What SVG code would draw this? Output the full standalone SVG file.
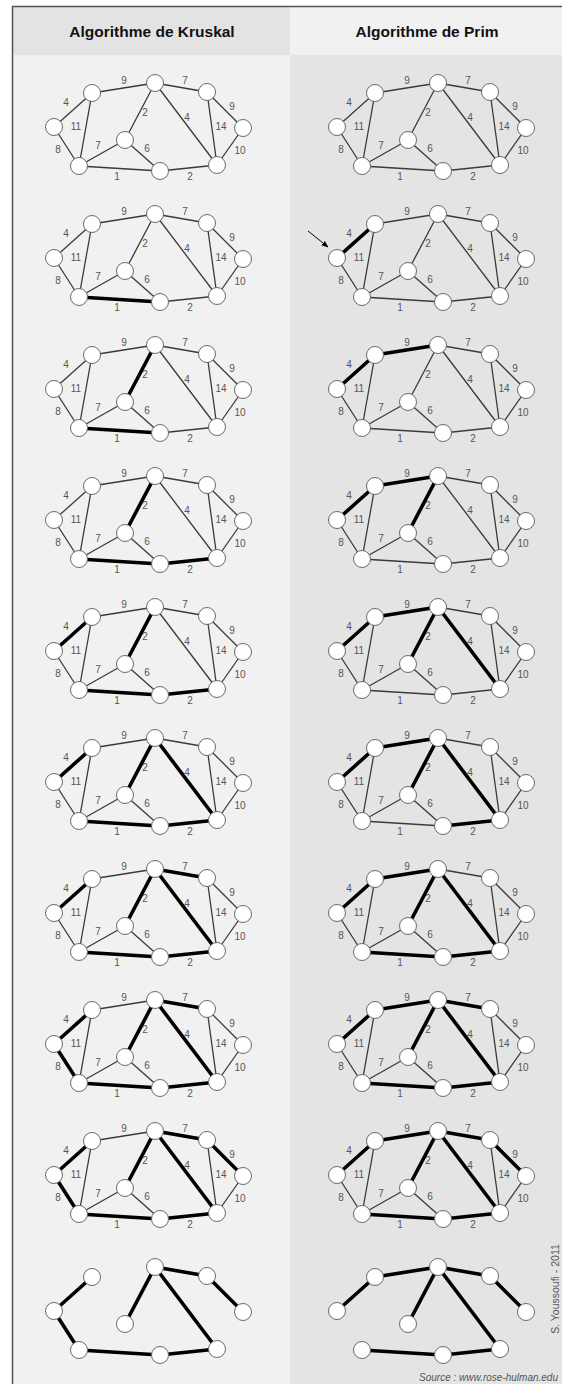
<svg xmlns="http://www.w3.org/2000/svg" xmlns:xlink="http://www.w3.org/1999/xlink" width="562" height="1384" viewBox="0 0 562 1384">
<style>
.t{stroke:#3a3a3a;stroke-width:1.3;fill:none}
.b{stroke:#000;stroke-width:3.6;fill:none;stroke-linecap:round}
.n{fill:#fff;stroke:#6a6a6a;stroke-width:1}
.l{font-family:"Liberation Sans",Arial,sans-serif;font-size:10px;fill:#555;text-anchor:middle}
.h{font-family:"Liberation Sans",Arial,sans-serif;font-size:15.5px;font-weight:bold;fill:#111;text-anchor:middle}
</style>
<defs>
<marker id="ah" viewBox="0 0 10 10" refX="9" refY="5" markerWidth="7" markerHeight="7" orient="auto" markerUnits="userSpaceOnUse"><path d="M0,1L10,5L0,9z" fill="#000"/></marker>
</defs>
<rect x="0" y="0" width="562" height="1384" fill="#fff"/>
<rect x="12" y="6" width="278" height="49" fill="#e3e3e3"/>
<rect x="290" y="6" width="272" height="49" fill="#f1f1f1"/>
<rect x="12" y="55" width="278" height="1329" fill="#f1f1f1"/>
<rect x="290" y="55" width="272" height="1329" fill="#e4e4e4"/>
<path d="M12,6.5H562M12.5,6V1384" stroke="#555" stroke-width="1.5" fill="none"/>
<text class="h" x="152" y="37">Algorithme de Kruskal</text>
<text class="h" x="427" y="37">Algorithme de Prim</text>

<!-- Kruskal 1 -->
<g id="k1" transform="translate(0,0)">
<g id="k1-edges"><path class="t" d="M54,127L92,93M54,127L79,166M92,93L79,166M92,93L155,83M155,83L207,92M155,83L125,140M155,83L217,165M207,92L217,165M207,92L243,128M243,128L217,165M125,140L79,166M125,140L160,171M79,166L160,171M160,171L217,165"/></g>
<g class="l"><text x="66" y="106">4</text><text x="58" y="153">8</text><text x="76" y="130">11</text><text x="124" y="84">9</text><text x="185" y="84">7</text><text x="145" y="116">2</text><text x="187" y="121">4</text><text x="221" y="130">14</text><text x="232" y="110">9</text><text x="240" y="154">10</text><text x="98" y="149">7</text><text x="147" y="152">6</text><text x="117" y="180">1</text><text x="190" y="180">2</text></g>
<g id="k1A"><circle class="n" cx="54" cy="127" r="8.5"/></g><g id="k1B"><circle class="n" cx="92" cy="93" r="8.5"/></g><g id="k1C"><circle class="n" cx="155" cy="83" r="8.5"/></g><g id="k1D"><circle class="n" cx="207" cy="92" r="8.5"/></g><g id="k1E"><circle class="n" cx="243" cy="128" r="8.5"/></g><g id="k1F"><circle class="n" cx="125" cy="140" r="8.5"/></g><g id="k1G"><circle class="n" cx="79" cy="166" r="8.5"/></g><g id="k1H"><circle class="n" cx="160" cy="171" r="8.5"/></g><g id="k1I"><circle class="n" cx="217" cy="165" r="8.5"/></g>
</g>

<!-- Kruskal 2 -->
<g id="k2" transform="translate(0,131)">
<g id="k2-edges"><path class="t" d="M54,127L92,93M54,127L79,166M92,93L79,166M92,93L155,83M155,83L207,92M155,83L125,140M155,83L217,165M207,92L217,165M207,92L243,128M243,128L217,165M125,140L79,166M125,140L160,171M79,166L160,171M160,171L217,165"/><path class="b" d="M79,166L160,171"/></g>
<g class="l"><text x="66" y="106">4</text><text x="58" y="153">8</text><text x="76" y="130">11</text><text x="124" y="84">9</text><text x="185" y="84">7</text><text x="145" y="116">2</text><text x="187" y="121">4</text><text x="221" y="130">14</text><text x="232" y="110">9</text><text x="240" y="154">10</text><text x="98" y="149">7</text><text x="147" y="152">6</text><text x="117" y="180">1</text><text x="190" y="180">2</text></g>
<g id="k2A"><circle class="n" cx="54" cy="127" r="8.5"/></g><g id="k2B"><circle class="n" cx="92" cy="93" r="8.5"/></g><g id="k2C"><circle class="n" cx="155" cy="83" r="8.5"/></g><g id="k2D"><circle class="n" cx="207" cy="92" r="8.5"/></g><g id="k2E"><circle class="n" cx="243" cy="128" r="8.5"/></g><g id="k2F"><circle class="n" cx="125" cy="140" r="8.5"/></g><g id="k2G"><circle class="n" cx="79" cy="166" r="8.5"/></g><g id="k2H"><circle class="n" cx="160" cy="171" r="8.5"/></g><g id="k2I"><circle class="n" cx="217" cy="165" r="8.5"/></g>
</g>

<!-- Kruskal 3 -->
<g id="k3" transform="translate(0,262)">
<g id="k3-edges"><path class="t" d="M54,127L92,93M54,127L79,166M92,93L79,166M92,93L155,83M155,83L207,92M155,83L125,140M155,83L217,165M207,92L217,165M207,92L243,128M243,128L217,165M125,140L79,166M125,140L160,171M79,166L160,171M160,171L217,165"/><path class="b" d="M79,166L160,171M155,83L125,140"/></g>
<g class="l"><text x="66" y="106">4</text><text x="58" y="153">8</text><text x="76" y="130">11</text><text x="124" y="84">9</text><text x="185" y="84">7</text><text x="145" y="116">2</text><text x="187" y="121">4</text><text x="221" y="130">14</text><text x="232" y="110">9</text><text x="240" y="154">10</text><text x="98" y="149">7</text><text x="147" y="152">6</text><text x="117" y="180">1</text><text x="190" y="180">2</text></g>
<g id="k3A"><circle class="n" cx="54" cy="127" r="8.5"/></g><g id="k3B"><circle class="n" cx="92" cy="93" r="8.5"/></g><g id="k3C"><circle class="n" cx="155" cy="83" r="8.5"/></g><g id="k3D"><circle class="n" cx="207" cy="92" r="8.5"/></g><g id="k3E"><circle class="n" cx="243" cy="128" r="8.5"/></g><g id="k3F"><circle class="n" cx="125" cy="140" r="8.5"/></g><g id="k3G"><circle class="n" cx="79" cy="166" r="8.5"/></g><g id="k3H"><circle class="n" cx="160" cy="171" r="8.5"/></g><g id="k3I"><circle class="n" cx="217" cy="165" r="8.5"/></g>
</g>

<!-- Kruskal 4 -->
<g id="k4" transform="translate(0,393)">
<g id="k4-edges"><path class="t" d="M54,127L92,93M54,127L79,166M92,93L79,166M92,93L155,83M155,83L207,92M155,83L125,140M155,83L217,165M207,92L217,165M207,92L243,128M243,128L217,165M125,140L79,166M125,140L160,171M79,166L160,171M160,171L217,165"/><path class="b" d="M79,166L160,171M155,83L125,140M160,171L217,165"/></g>
<g class="l"><text x="66" y="106">4</text><text x="58" y="153">8</text><text x="76" y="130">11</text><text x="124" y="84">9</text><text x="185" y="84">7</text><text x="145" y="116">2</text><text x="187" y="121">4</text><text x="221" y="130">14</text><text x="232" y="110">9</text><text x="240" y="154">10</text><text x="98" y="149">7</text><text x="147" y="152">6</text><text x="117" y="180">1</text><text x="190" y="180">2</text></g>
<g id="k4A"><circle class="n" cx="54" cy="127" r="8.5"/></g><g id="k4B"><circle class="n" cx="92" cy="93" r="8.5"/></g><g id="k4C"><circle class="n" cx="155" cy="83" r="8.5"/></g><g id="k4D"><circle class="n" cx="207" cy="92" r="8.5"/></g><g id="k4E"><circle class="n" cx="243" cy="128" r="8.5"/></g><g id="k4F"><circle class="n" cx="125" cy="140" r="8.5"/></g><g id="k4G"><circle class="n" cx="79" cy="166" r="8.5"/></g><g id="k4H"><circle class="n" cx="160" cy="171" r="8.5"/></g><g id="k4I"><circle class="n" cx="217" cy="165" r="8.5"/></g>
</g>

<!-- Kruskal 5 -->
<g id="k5" transform="translate(0,524)">
<g id="k5-edges"><path class="t" d="M54,127L92,93M54,127L79,166M92,93L79,166M92,93L155,83M155,83L207,92M155,83L125,140M155,83L217,165M207,92L217,165M207,92L243,128M243,128L217,165M125,140L79,166M125,140L160,171M79,166L160,171M160,171L217,165"/><path class="b" d="M79,166L160,171M155,83L125,140M160,171L217,165M54,127L92,93"/></g>
<g class="l"><text x="66" y="106">4</text><text x="58" y="153">8</text><text x="76" y="130">11</text><text x="124" y="84">9</text><text x="185" y="84">7</text><text x="145" y="116">2</text><text x="187" y="121">4</text><text x="221" y="130">14</text><text x="232" y="110">9</text><text x="240" y="154">10</text><text x="98" y="149">7</text><text x="147" y="152">6</text><text x="117" y="180">1</text><text x="190" y="180">2</text></g>
<g id="k5A"><circle class="n" cx="54" cy="127" r="8.5"/></g><g id="k5B"><circle class="n" cx="92" cy="93" r="8.5"/></g><g id="k5C"><circle class="n" cx="155" cy="83" r="8.5"/></g><g id="k5D"><circle class="n" cx="207" cy="92" r="8.5"/></g><g id="k5E"><circle class="n" cx="243" cy="128" r="8.5"/></g><g id="k5F"><circle class="n" cx="125" cy="140" r="8.5"/></g><g id="k5G"><circle class="n" cx="79" cy="166" r="8.5"/></g><g id="k5H"><circle class="n" cx="160" cy="171" r="8.5"/></g><g id="k5I"><circle class="n" cx="217" cy="165" r="8.5"/></g>
</g>

<!-- Kruskal 6 -->
<g id="k6" transform="translate(0,655)">
<g id="k6-edges"><path class="t" d="M54,127L92,93M54,127L79,166M92,93L79,166M92,93L155,83M155,83L207,92M155,83L125,140M155,83L217,165M207,92L217,165M207,92L243,128M243,128L217,165M125,140L79,166M125,140L160,171M79,166L160,171M160,171L217,165"/><path class="b" d="M79,166L160,171M155,83L125,140M160,171L217,165M54,127L92,93M155,83L217,165"/></g>
<g class="l"><text x="66" y="106">4</text><text x="58" y="153">8</text><text x="76" y="130">11</text><text x="124" y="84">9</text><text x="185" y="84">7</text><text x="145" y="116">2</text><text x="187" y="121">4</text><text x="221" y="130">14</text><text x="232" y="110">9</text><text x="240" y="154">10</text><text x="98" y="149">7</text><text x="147" y="152">6</text><text x="117" y="180">1</text><text x="190" y="180">2</text></g>
<g id="k6A"><circle class="n" cx="54" cy="127" r="8.5"/></g><g id="k6B"><circle class="n" cx="92" cy="93" r="8.5"/></g><g id="k6C"><circle class="n" cx="155" cy="83" r="8.5"/></g><g id="k6D"><circle class="n" cx="207" cy="92" r="8.5"/></g><g id="k6E"><circle class="n" cx="243" cy="128" r="8.5"/></g><g id="k6F"><circle class="n" cx="125" cy="140" r="8.5"/></g><g id="k6G"><circle class="n" cx="79" cy="166" r="8.5"/></g><g id="k6H"><circle class="n" cx="160" cy="171" r="8.5"/></g><g id="k6I"><circle class="n" cx="217" cy="165" r="8.5"/></g>
</g>

<!-- Kruskal 7 -->
<g id="k7" transform="translate(0,786)">
<g id="k7-edges"><path class="t" d="M54,127L92,93M54,127L79,166M92,93L79,166M92,93L155,83M155,83L207,92M155,83L125,140M155,83L217,165M207,92L217,165M207,92L243,128M243,128L217,165M125,140L79,166M125,140L160,171M79,166L160,171M160,171L217,165"/><path class="b" d="M79,166L160,171M155,83L125,140M160,171L217,165M54,127L92,93M155,83L217,165M155,83L207,92"/></g>
<g class="l"><text x="66" y="106">4</text><text x="58" y="153">8</text><text x="76" y="130">11</text><text x="124" y="84">9</text><text x="185" y="84">7</text><text x="145" y="116">2</text><text x="187" y="121">4</text><text x="221" y="130">14</text><text x="232" y="110">9</text><text x="240" y="154">10</text><text x="98" y="149">7</text><text x="147" y="152">6</text><text x="117" y="180">1</text><text x="190" y="180">2</text></g>
<g id="k7A"><circle class="n" cx="54" cy="127" r="8.5"/></g><g id="k7B"><circle class="n" cx="92" cy="93" r="8.5"/></g><g id="k7C"><circle class="n" cx="155" cy="83" r="8.5"/></g><g id="k7D"><circle class="n" cx="207" cy="92" r="8.5"/></g><g id="k7E"><circle class="n" cx="243" cy="128" r="8.5"/></g><g id="k7F"><circle class="n" cx="125" cy="140" r="8.5"/></g><g id="k7G"><circle class="n" cx="79" cy="166" r="8.5"/></g><g id="k7H"><circle class="n" cx="160" cy="171" r="8.5"/></g><g id="k7I"><circle class="n" cx="217" cy="165" r="8.5"/></g>
</g>

<!-- Kruskal 8 -->
<g id="k8" transform="translate(0,917)">
<g id="k8-edges"><path class="t" d="M54,127L92,93M54,127L79,166M92,93L79,166M92,93L155,83M155,83L207,92M155,83L125,140M155,83L217,165M207,92L217,165M207,92L243,128M243,128L217,165M125,140L79,166M125,140L160,171M79,166L160,171M160,171L217,165"/><path class="b" d="M79,166L160,171M155,83L125,140M160,171L217,165M54,127L92,93M155,83L217,165M155,83L207,92M54,127L79,166"/></g>
<g class="l"><text x="66" y="106">4</text><text x="58" y="153">8</text><text x="76" y="130">11</text><text x="124" y="84">9</text><text x="185" y="84">7</text><text x="145" y="116">2</text><text x="187" y="121">4</text><text x="221" y="130">14</text><text x="232" y="110">9</text><text x="240" y="154">10</text><text x="98" y="149">7</text><text x="147" y="152">6</text><text x="117" y="180">1</text><text x="190" y="180">2</text></g>
<g id="k8A"><circle class="n" cx="54" cy="127" r="8.5"/></g><g id="k8B"><circle class="n" cx="92" cy="93" r="8.5"/></g><g id="k8C"><circle class="n" cx="155" cy="83" r="8.5"/></g><g id="k8D"><circle class="n" cx="207" cy="92" r="8.5"/></g><g id="k8E"><circle class="n" cx="243" cy="128" r="8.5"/></g><g id="k8F"><circle class="n" cx="125" cy="140" r="8.5"/></g><g id="k8G"><circle class="n" cx="79" cy="166" r="8.5"/></g><g id="k8H"><circle class="n" cx="160" cy="171" r="8.5"/></g><g id="k8I"><circle class="n" cx="217" cy="165" r="8.5"/></g>
</g>

<!-- Kruskal 9 -->
<g id="k9" transform="translate(0,1048)">
<g id="k9-edges"><path class="t" d="M54,127L92,93M54,127L79,166M92,93L79,166M92,93L155,83M155,83L207,92M155,83L125,140M155,83L217,165M207,92L217,165M207,92L243,128M243,128L217,165M125,140L79,166M125,140L160,171M79,166L160,171M160,171L217,165"/><path class="b" d="M79,166L160,171M155,83L125,140M160,171L217,165M54,127L92,93M155,83L217,165M155,83L207,92M54,127L79,166M207,92L243,128"/></g>
<g class="l"><text x="66" y="106">4</text><text x="58" y="153">8</text><text x="76" y="130">11</text><text x="124" y="84">9</text><text x="185" y="84">7</text><text x="145" y="116">2</text><text x="187" y="121">4</text><text x="221" y="130">14</text><text x="232" y="110">9</text><text x="240" y="154">10</text><text x="98" y="149">7</text><text x="147" y="152">6</text><text x="117" y="180">1</text><text x="190" y="180">2</text></g>
<g id="k9A"><circle class="n" cx="54" cy="127" r="8.5"/></g><g id="k9B"><circle class="n" cx="92" cy="93" r="8.5"/></g><g id="k9C"><circle class="n" cx="155" cy="83" r="8.5"/></g><g id="k9D"><circle class="n" cx="207" cy="92" r="8.5"/></g><g id="k9E"><circle class="n" cx="243" cy="128" r="8.5"/></g><g id="k9F"><circle class="n" cx="125" cy="140" r="8.5"/></g><g id="k9G"><circle class="n" cx="79" cy="166" r="8.5"/></g><g id="k9H"><circle class="n" cx="160" cy="171" r="8.5"/></g><g id="k9I"><circle class="n" cx="217" cy="165" r="8.5"/></g>
</g>

<!-- Kruskal final -->
<g id="k10" transform="translate(0,1184)">
<g id="k10-edges"><path class="b" d="M54,127L92,93M54,127L79,166M79,166L160,171M160,171L217,165M155,83L217,165M155,83L125,140M155,83L207,92M207,92L243,128"/></g>
<g id="k10A"><circle class="n" cx="54" cy="127" r="8.5"/></g><g id="k10B"><circle class="n" cx="92" cy="93" r="8.5"/></g><g id="k10C"><circle class="n" cx="155" cy="83" r="8.5"/></g><g id="k10D"><circle class="n" cx="207" cy="92" r="8.5"/></g><g id="k10E"><circle class="n" cx="243" cy="128" r="8.5"/></g><g id="k10F"><circle class="n" cx="125" cy="140" r="8.5"/></g><g id="k10G"><circle class="n" cx="79" cy="166" r="8.5"/></g><g id="k10H"><circle class="n" cx="160" cy="171" r="8.5"/></g><g id="k10I"><circle class="n" cx="217" cy="165" r="8.5"/></g>
</g>

<!-- Prim 1 -->
<g id="p1" transform="translate(283,0)">
<g id="p1-edges"><path class="t" d="M54,127L92,93M54,127L79,166M92,93L79,166M92,93L155,83M155,83L207,92M155,83L125,140M155,83L217,165M207,92L217,165M207,92L243,128M243,128L217,165M125,140L79,166M125,140L160,171M79,166L160,171M160,171L217,165"/></g>
<g class="l"><text x="66" y="106">4</text><text x="58" y="153">8</text><text x="76" y="130">11</text><text x="124" y="84">9</text><text x="185" y="84">7</text><text x="145" y="116">2</text><text x="187" y="121">4</text><text x="221" y="130">14</text><text x="232" y="110">9</text><text x="240" y="154">10</text><text x="98" y="149">7</text><text x="147" y="152">6</text><text x="117" y="180">1</text><text x="190" y="180">2</text></g>
<g id="p1A"><circle class="n" cx="54" cy="127" r="8.5"/></g><g id="p1B"><circle class="n" cx="92" cy="93" r="8.5"/></g><g id="p1C"><circle class="n" cx="155" cy="83" r="8.5"/></g><g id="p1D"><circle class="n" cx="207" cy="92" r="8.5"/></g><g id="p1E"><circle class="n" cx="243" cy="128" r="8.5"/></g><g id="p1F"><circle class="n" cx="125" cy="140" r="8.5"/></g><g id="p1G"><circle class="n" cx="79" cy="166" r="8.5"/></g><g id="p1H"><circle class="n" cx="160" cy="171" r="8.5"/></g><g id="p1I"><circle class="n" cx="217" cy="165" r="8.5"/></g>
</g>

<!-- Prim 2 -->
<g id="p2" transform="translate(283,131)">
<g id="p2-edges"><path class="t" d="M54,127L92,93M54,127L79,166M92,93L79,166M92,93L155,83M155,83L207,92M155,83L125,140M155,83L217,165M207,92L217,165M207,92L243,128M243,128L217,165M125,140L79,166M125,140L160,171M79,166L160,171M160,171L217,165"/><path class="b" d="M54,127L92,93"/><path d="M25,100L45,116" stroke="#000" stroke-width="1" fill="none" marker-end="url(#ah)"/></g>
<g class="l"><text x="66" y="106">4</text><text x="58" y="153">8</text><text x="76" y="130">11</text><text x="124" y="84">9</text><text x="185" y="84">7</text><text x="145" y="116">2</text><text x="187" y="121">4</text><text x="221" y="130">14</text><text x="232" y="110">9</text><text x="240" y="154">10</text><text x="98" y="149">7</text><text x="147" y="152">6</text><text x="117" y="180">1</text><text x="190" y="180">2</text></g>
<g id="p2A"><circle class="n" cx="54" cy="127" r="8.5"/></g><g id="p2B"><circle class="n" cx="92" cy="93" r="8.5"/></g><g id="p2C"><circle class="n" cx="155" cy="83" r="8.5"/></g><g id="p2D"><circle class="n" cx="207" cy="92" r="8.5"/></g><g id="p2E"><circle class="n" cx="243" cy="128" r="8.5"/></g><g id="p2F"><circle class="n" cx="125" cy="140" r="8.5"/></g><g id="p2G"><circle class="n" cx="79" cy="166" r="8.5"/></g><g id="p2H"><circle class="n" cx="160" cy="171" r="8.5"/></g><g id="p2I"><circle class="n" cx="217" cy="165" r="8.5"/></g>
</g>

<!-- Prim 3 -->
<g id="p3" transform="translate(283,262)">
<g id="p3-edges"><path class="t" d="M54,127L92,93M54,127L79,166M92,93L79,166M92,93L155,83M155,83L207,92M155,83L125,140M155,83L217,165M207,92L217,165M207,92L243,128M243,128L217,165M125,140L79,166M125,140L160,171M79,166L160,171M160,171L217,165"/><path class="b" d="M54,127L92,93M92,93L155,83"/></g>
<g class="l"><text x="66" y="106">4</text><text x="58" y="153">8</text><text x="76" y="130">11</text><text x="124" y="84">9</text><text x="185" y="84">7</text><text x="145" y="116">2</text><text x="187" y="121">4</text><text x="221" y="130">14</text><text x="232" y="110">9</text><text x="240" y="154">10</text><text x="98" y="149">7</text><text x="147" y="152">6</text><text x="117" y="180">1</text><text x="190" y="180">2</text></g>
<g id="p3A"><circle class="n" cx="54" cy="127" r="8.5"/></g><g id="p3B"><circle class="n" cx="92" cy="93" r="8.5"/></g><g id="p3C"><circle class="n" cx="155" cy="83" r="8.5"/></g><g id="p3D"><circle class="n" cx="207" cy="92" r="8.5"/></g><g id="p3E"><circle class="n" cx="243" cy="128" r="8.5"/></g><g id="p3F"><circle class="n" cx="125" cy="140" r="8.5"/></g><g id="p3G"><circle class="n" cx="79" cy="166" r="8.5"/></g><g id="p3H"><circle class="n" cx="160" cy="171" r="8.5"/></g><g id="p3I"><circle class="n" cx="217" cy="165" r="8.5"/></g>
</g>

<!-- Prim 4 -->
<g id="p4" transform="translate(283,393)">
<g id="p4-edges"><path class="t" d="M54,127L92,93M54,127L79,166M92,93L79,166M92,93L155,83M155,83L207,92M155,83L125,140M155,83L217,165M207,92L217,165M207,92L243,128M243,128L217,165M125,140L79,166M125,140L160,171M79,166L160,171M160,171L217,165"/><path class="b" d="M54,127L92,93M92,93L155,83M155,83L125,140"/></g>
<g class="l"><text x="66" y="106">4</text><text x="58" y="153">8</text><text x="76" y="130">11</text><text x="124" y="84">9</text><text x="185" y="84">7</text><text x="145" y="116">2</text><text x="187" y="121">4</text><text x="221" y="130">14</text><text x="232" y="110">9</text><text x="240" y="154">10</text><text x="98" y="149">7</text><text x="147" y="152">6</text><text x="117" y="180">1</text><text x="190" y="180">2</text></g>
<g id="p4A"><circle class="n" cx="54" cy="127" r="8.5"/></g><g id="p4B"><circle class="n" cx="92" cy="93" r="8.5"/></g><g id="p4C"><circle class="n" cx="155" cy="83" r="8.5"/></g><g id="p4D"><circle class="n" cx="207" cy="92" r="8.5"/></g><g id="p4E"><circle class="n" cx="243" cy="128" r="8.5"/></g><g id="p4F"><circle class="n" cx="125" cy="140" r="8.5"/></g><g id="p4G"><circle class="n" cx="79" cy="166" r="8.5"/></g><g id="p4H"><circle class="n" cx="160" cy="171" r="8.5"/></g><g id="p4I"><circle class="n" cx="217" cy="165" r="8.5"/></g>
</g>

<!-- Prim 5 -->
<g id="p5" transform="translate(283,524)">
<g id="p5-edges"><path class="t" d="M54,127L92,93M54,127L79,166M92,93L79,166M92,93L155,83M155,83L207,92M155,83L125,140M155,83L217,165M207,92L217,165M207,92L243,128M243,128L217,165M125,140L79,166M125,140L160,171M79,166L160,171M160,171L217,165"/><path class="b" d="M54,127L92,93M92,93L155,83M155,83L125,140M155,83L217,165"/></g>
<g class="l"><text x="66" y="106">4</text><text x="58" y="153">8</text><text x="76" y="130">11</text><text x="124" y="84">9</text><text x="185" y="84">7</text><text x="145" y="116">2</text><text x="187" y="121">4</text><text x="221" y="130">14</text><text x="232" y="110">9</text><text x="240" y="154">10</text><text x="98" y="149">7</text><text x="147" y="152">6</text><text x="117" y="180">1</text><text x="190" y="180">2</text></g>
<g id="p5A"><circle class="n" cx="54" cy="127" r="8.5"/></g><g id="p5B"><circle class="n" cx="92" cy="93" r="8.5"/></g><g id="p5C"><circle class="n" cx="155" cy="83" r="8.5"/></g><g id="p5D"><circle class="n" cx="207" cy="92" r="8.5"/></g><g id="p5E"><circle class="n" cx="243" cy="128" r="8.5"/></g><g id="p5F"><circle class="n" cx="125" cy="140" r="8.5"/></g><g id="p5G"><circle class="n" cx="79" cy="166" r="8.5"/></g><g id="p5H"><circle class="n" cx="160" cy="171" r="8.5"/></g><g id="p5I"><circle class="n" cx="217" cy="165" r="8.5"/></g>
</g>

<!-- Prim 6 -->
<g id="p6" transform="translate(283,655)">
<g id="p6-edges"><path class="t" d="M54,127L92,93M54,127L79,166M92,93L79,166M92,93L155,83M155,83L207,92M155,83L125,140M155,83L217,165M207,92L217,165M207,92L243,128M243,128L217,165M125,140L79,166M125,140L160,171M79,166L160,171M160,171L217,165"/><path class="b" d="M54,127L92,93M92,93L155,83M155,83L125,140M155,83L217,165M160,171L217,165"/></g>
<g class="l"><text x="66" y="106">4</text><text x="58" y="153">8</text><text x="76" y="130">11</text><text x="124" y="84">9</text><text x="185" y="84">7</text><text x="145" y="116">2</text><text x="187" y="121">4</text><text x="221" y="130">14</text><text x="232" y="110">9</text><text x="240" y="154">10</text><text x="98" y="149">7</text><text x="147" y="152">6</text><text x="117" y="180">1</text><text x="190" y="180">2</text></g>
<g id="p6A"><circle class="n" cx="54" cy="127" r="8.5"/></g><g id="p6B"><circle class="n" cx="92" cy="93" r="8.5"/></g><g id="p6C"><circle class="n" cx="155" cy="83" r="8.5"/></g><g id="p6D"><circle class="n" cx="207" cy="92" r="8.5"/></g><g id="p6E"><circle class="n" cx="243" cy="128" r="8.5"/></g><g id="p6F"><circle class="n" cx="125" cy="140" r="8.5"/></g><g id="p6G"><circle class="n" cx="79" cy="166" r="8.5"/></g><g id="p6H"><circle class="n" cx="160" cy="171" r="8.5"/></g><g id="p6I"><circle class="n" cx="217" cy="165" r="8.5"/></g>
</g>

<!-- Prim 7 -->
<g id="p7" transform="translate(283,786)">
<g id="p7-edges"><path class="t" d="M54,127L92,93M54,127L79,166M92,93L79,166M92,93L155,83M155,83L207,92M155,83L125,140M155,83L217,165M207,92L217,165M207,92L243,128M243,128L217,165M125,140L79,166M125,140L160,171M79,166L160,171M160,171L217,165"/><path class="b" d="M54,127L92,93M92,93L155,83M155,83L125,140M155,83L217,165M160,171L217,165M79,166L160,171"/></g>
<g class="l"><text x="66" y="106">4</text><text x="58" y="153">8</text><text x="76" y="130">11</text><text x="124" y="84">9</text><text x="185" y="84">7</text><text x="145" y="116">2</text><text x="187" y="121">4</text><text x="221" y="130">14</text><text x="232" y="110">9</text><text x="240" y="154">10</text><text x="98" y="149">7</text><text x="147" y="152">6</text><text x="117" y="180">1</text><text x="190" y="180">2</text></g>
<g id="p7A"><circle class="n" cx="54" cy="127" r="8.5"/></g><g id="p7B"><circle class="n" cx="92" cy="93" r="8.5"/></g><g id="p7C"><circle class="n" cx="155" cy="83" r="8.5"/></g><g id="p7D"><circle class="n" cx="207" cy="92" r="8.5"/></g><g id="p7E"><circle class="n" cx="243" cy="128" r="8.5"/></g><g id="p7F"><circle class="n" cx="125" cy="140" r="8.5"/></g><g id="p7G"><circle class="n" cx="79" cy="166" r="8.5"/></g><g id="p7H"><circle class="n" cx="160" cy="171" r="8.5"/></g><g id="p7I"><circle class="n" cx="217" cy="165" r="8.5"/></g>
</g>

<!-- Prim 8 -->
<g id="p8" transform="translate(283,917)">
<g id="p8-edges"><path class="t" d="M54,127L92,93M54,127L79,166M92,93L79,166M92,93L155,83M155,83L207,92M155,83L125,140M155,83L217,165M207,92L217,165M207,92L243,128M243,128L217,165M125,140L79,166M125,140L160,171M79,166L160,171M160,171L217,165"/><path class="b" d="M54,127L92,93M92,93L155,83M155,83L125,140M155,83L217,165M160,171L217,165M79,166L160,171M155,83L207,92"/></g>
<g class="l"><text x="66" y="106">4</text><text x="58" y="153">8</text><text x="76" y="130">11</text><text x="124" y="84">9</text><text x="185" y="84">7</text><text x="145" y="116">2</text><text x="187" y="121">4</text><text x="221" y="130">14</text><text x="232" y="110">9</text><text x="240" y="154">10</text><text x="98" y="149">7</text><text x="147" y="152">6</text><text x="117" y="180">1</text><text x="190" y="180">2</text></g>
<g id="p8A"><circle class="n" cx="54" cy="127" r="8.5"/></g><g id="p8B"><circle class="n" cx="92" cy="93" r="8.5"/></g><g id="p8C"><circle class="n" cx="155" cy="83" r="8.5"/></g><g id="p8D"><circle class="n" cx="207" cy="92" r="8.5"/></g><g id="p8E"><circle class="n" cx="243" cy="128" r="8.5"/></g><g id="p8F"><circle class="n" cx="125" cy="140" r="8.5"/></g><g id="p8G"><circle class="n" cx="79" cy="166" r="8.5"/></g><g id="p8H"><circle class="n" cx="160" cy="171" r="8.5"/></g><g id="p8I"><circle class="n" cx="217" cy="165" r="8.5"/></g>
</g>

<!-- Prim 9 -->
<g id="p9" transform="translate(283,1048)">
<g id="p9-edges"><path class="t" d="M54,127L92,93M54,127L79,166M92,93L79,166M92,93L155,83M155,83L207,92M155,83L125,140M155,83L217,165M207,92L217,165M207,92L243,128M243,128L217,165M125,140L79,166M125,140L160,171M79,166L160,171M160,171L217,165"/><path class="b" d="M54,127L92,93M92,93L155,83M155,83L125,140M155,83L217,165M160,171L217,165M79,166L160,171M155,83L207,92M207,92L243,128"/></g>
<g class="l"><text x="66" y="106">4</text><text x="58" y="153">8</text><text x="76" y="130">11</text><text x="124" y="84">9</text><text x="185" y="84">7</text><text x="145" y="116">2</text><text x="187" y="121">4</text><text x="221" y="130">14</text><text x="232" y="110">9</text><text x="240" y="154">10</text><text x="98" y="149">7</text><text x="147" y="152">6</text><text x="117" y="180">1</text><text x="190" y="180">2</text></g>
<g id="p9A"><circle class="n" cx="54" cy="127" r="8.5"/></g><g id="p9B"><circle class="n" cx="92" cy="93" r="8.5"/></g><g id="p9C"><circle class="n" cx="155" cy="83" r="8.5"/></g><g id="p9D"><circle class="n" cx="207" cy="92" r="8.5"/></g><g id="p9E"><circle class="n" cx="243" cy="128" r="8.5"/></g><g id="p9F"><circle class="n" cx="125" cy="140" r="8.5"/></g><g id="p9G"><circle class="n" cx="79" cy="166" r="8.5"/></g><g id="p9H"><circle class="n" cx="160" cy="171" r="8.5"/></g><g id="p9I"><circle class="n" cx="217" cy="165" r="8.5"/></g>
</g>

<!-- Prim final -->
<g id="p10" transform="translate(283,1184)">
<g id="p10-edges"><path class="b" d="M54,127L92,93M92,93L155,83M155,83L207,92M207,92L243,128M155,83L125,140M155,83L217,165M160,171L217,165M79,166L160,171"/></g>
<g id="p10A"><circle class="n" cx="54" cy="127" r="8.5"/></g><g id="p10B"><circle class="n" cx="92" cy="93" r="8.5"/></g><g id="p10C"><circle class="n" cx="155" cy="83" r="8.5"/></g><g id="p10D"><circle class="n" cx="207" cy="92" r="8.5"/></g><g id="p10E"><circle class="n" cx="243" cy="128" r="8.5"/></g><g id="p10F"><circle class="n" cx="125" cy="140" r="8.5"/></g><g id="p10G"><circle class="n" cx="79" cy="166" r="8.5"/></g><g id="p10H"><circle class="n" cx="160" cy="171" r="8.5"/></g><g id="p10I"><circle class="n" cx="217" cy="165" r="8.5"/></g>
</g>

<text x="555" y="1289" transform="rotate(-90 555 1289)" font-family="Liberation Sans, Arial, sans-serif" font-size="10.5" fill="#555" text-anchor="middle" dominant-baseline="central">S. Youssoufi - 2011</text>
<text x="558" y="1381" font-family="Liberation Sans, Arial, sans-serif" font-size="10" font-style="italic" fill="#555" text-anchor="end">Source : www.rose-hulman.edu</text>
</svg>
